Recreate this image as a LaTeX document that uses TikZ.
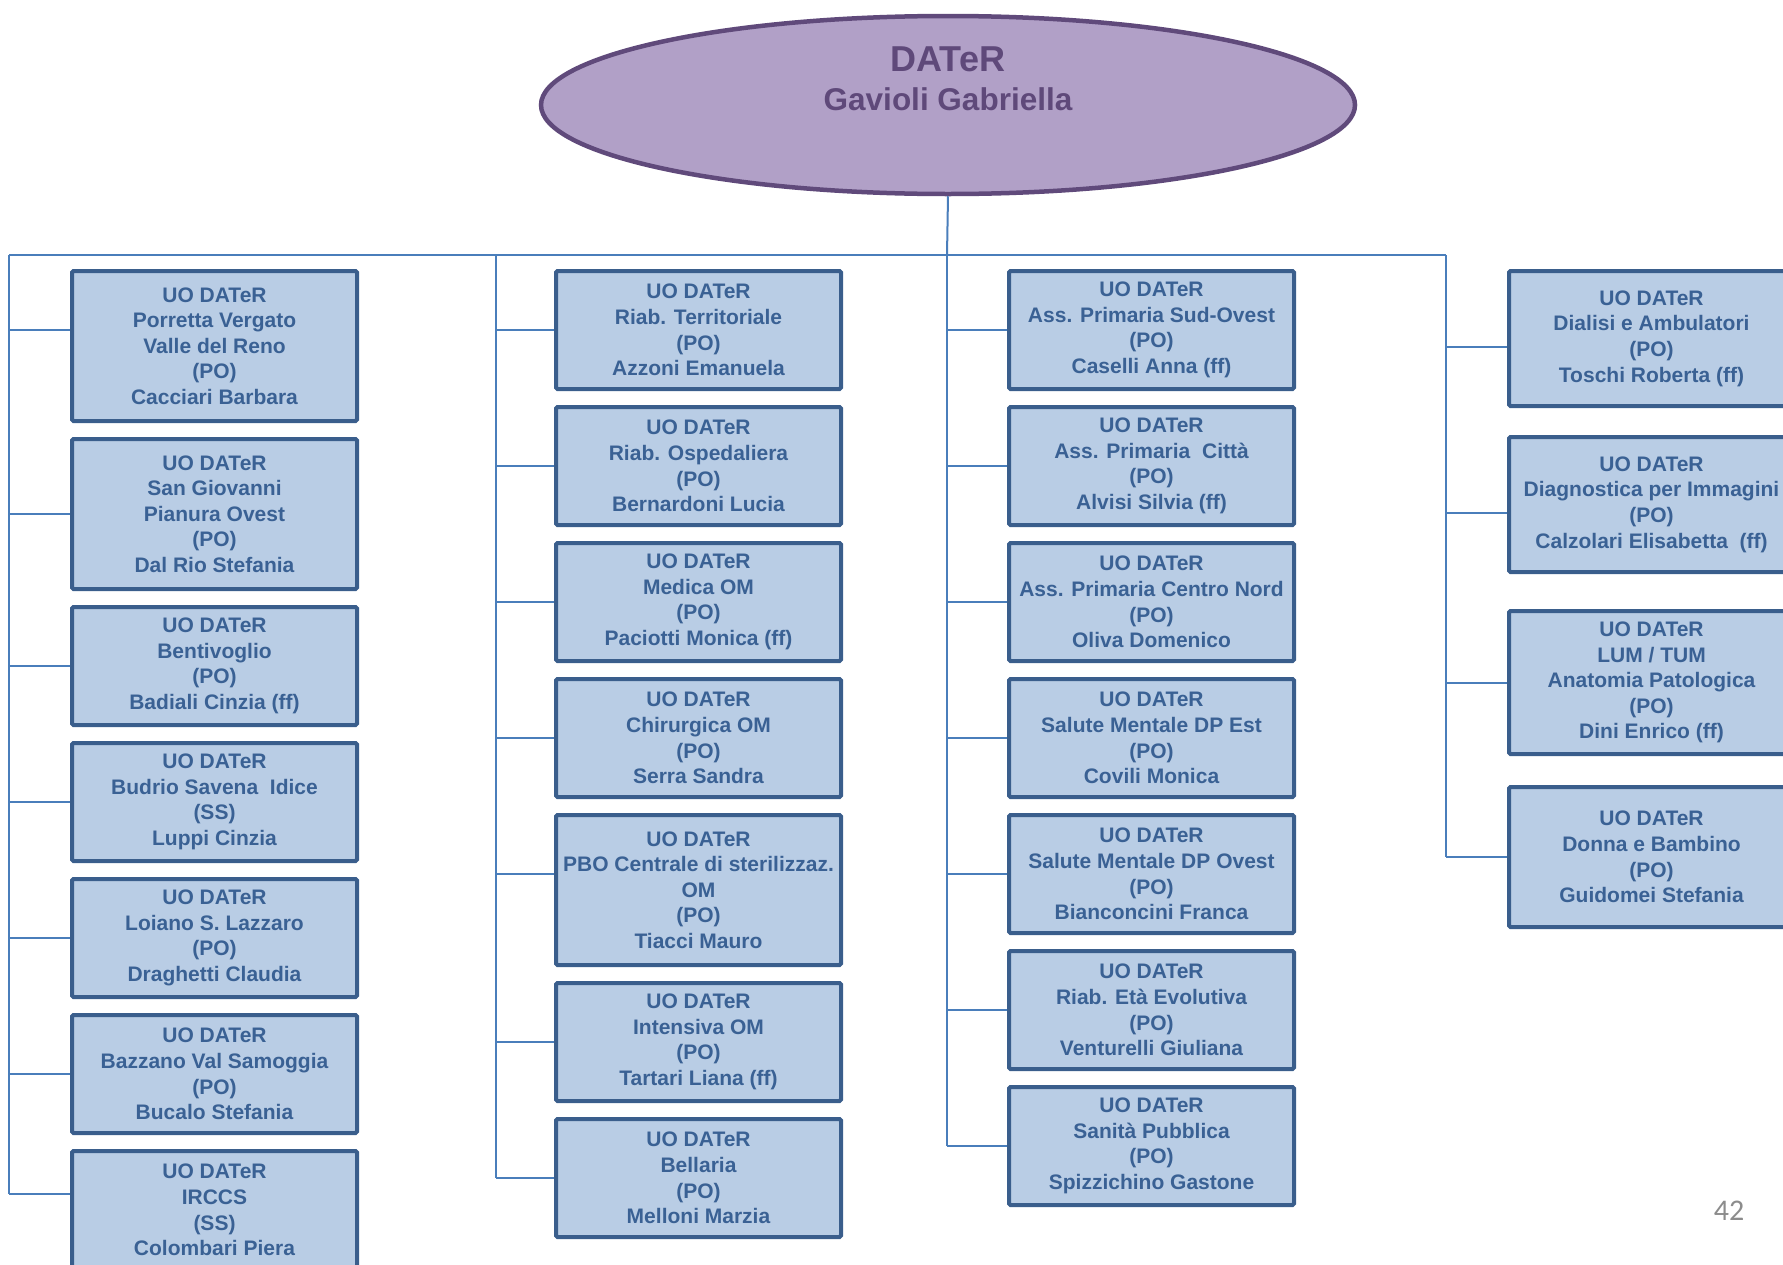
\documentclass[tikz,border=0pt]{standalone}
\usepackage{fontspec}
\setmainfont{Liberation Sans}
\newfontfamily\pagefont{Carlito}
\usetikzlibrary{positioning, shapes.geometric}
\definecolor{ovalfill}{HTML}{B1A0C7}
\definecolor{ovalline}{HTML}{604A7B}
\definecolor{ovaltext}{HTML}{5F497A}
\definecolor{boxfill}{HTML}{B9CDE5}
\definecolor{boxline}{HTML}{3A5E8C}
\definecolor{boxtext}{HTML}{3A6194}
\definecolor{connline}{HTML}{4A7EBB}
\newcommand{\boxfont}{\fontsize{21}{25.6}\selectfont\bfseries}
\newcommand{\ovalfont}{\fontsize{31.5}{39}\selectfont\bfseries}
\tikzset{
  uobox/.style={draw=boxline, fill=boxfill, line width=4pt, rounded corners=1.5pt,
    text=boxtext, font=\boxfont, align=center, minimum width=285pt,
    minimum height=118pt, inner sep=2pt},
  tallbox/.style={minimum height=150pt},
  conn/.style={draw=connline, line width=2pt}
}

\begin{document}
\begin{tikzpicture}[x=1pt,y=1pt,node distance=14pt]
\useasboundingbox (0,0) rectangle (1783,-1264);
\clip (0,0) rectangle (1783,-1264);

\node[ellipse,draw=ovalline,fill=ovalfill,line width=4.5pt,minimum width=814pt,minimum height=178pt,inner sep=0pt] (dater) at (948,-105) {};
\node[text=ovaltext,font=\ovalfont,align=center] (daterlbl) at (948,-79)
  {{\fontsize{36}{39}\selectfont DATeR}\\Gavioli Gabriella};

\coordinate (bus1) at (9,-255);
\coordinate (bus2) at (496,-255);
\coordinate (bus3) at (947,-255);
\coordinate (bus4) at (1446,-255);

\node[uobox,tallbox,anchor=north west] (a1) at (70,-269) {UO DATeR\\Porretta Vergato\\Valle del Reno\\(PO)\\Cacciari Barbara};
\node[uobox,tallbox,below=of a1] (a2) {UO DATeR\\San Giovanni\\Pianura Ovest\\(PO)\\Dal Rio Stefania};
\node[uobox,below=of a2] (a3) {UO DATeR\\Bentivoglio\\(PO)\\Badiali Cinzia (ff)};
\node[uobox,below=of a3] (a4) {UO DATeR\\Budrio Savena\ \ Idice\\(SS)\\Luppi Cinzia};
\node[uobox,below=of a4] (a5) {UO DATeR\\Loiano S. Lazzaro\\(PO)\\Draghetti Claudia};
\node[uobox,below=of a5] (a6) {UO DATeR\\Bazzano Val Samoggia\\(PO)\\Bucalo Stefania};
\node[uobox,below=of a6] (a7) {UO DATeR\\IRCCS\\(SS)\\Colombari Piera};

\node[uobox,anchor=north west] (b1) at (554,-269) {UO DATeR\\Riab. Territoriale\\(PO)\\Azzoni Emanuela};
\node[uobox,below=of b1] (b2) {UO DATeR\\Riab. Ospedaliera\\(PO)\\Bernardoni Lucia};
\node[uobox,below=of b2] (b3) {UO DATeR\\Medica OM\\(PO)\\Paciotti Monica (ff)};
\node[uobox,below=of b3] (b4) {UO DATeR\\Chirurgica OM\\(PO)\\Serra Sandra};
\node[uobox,tallbox,below=of b4] (b5) {UO DATeR\\PBO Centrale di sterilizzaz.\\OM\\(PO)\\Tiacci Mauro};
\node[uobox,below=of b5] (b6) {UO DATeR\\Intensiva OM\\(PO)\\Tartari Liana (ff)};
\node[uobox,below=of b6] (b7) {UO DATeR\\Bellaria\\(PO)\\Melloni Marzia};

\node[uobox,anchor=north west] (c1) at (1007,-269) {UO DATeR\\Ass. Primaria Sud-Ovest\\(PO)\\Caselli Anna (ff)};
\node[uobox,below=of c1] (c2) {UO DATeR\\Ass. Primaria\ \ Città\\(PO)\\Alvisi Silvia (ff)};
\node[uobox,below=of c2] (c3) {UO DATeR\\Ass. Primaria Centro Nord\\(PO)\\Oliva Domenico};
\node[uobox,below=of c3] (c4) {UO DATeR\\Salute Mentale DP Est\\(PO)\\Covili Monica};
\node[uobox,below=of c4] (c5) {UO DATeR\\Salute Mentale DP Ovest\\(PO)\\Bianconcini Franca};
\node[uobox,below=of c5] (c6) {UO DATeR\\Riab. Età Evolutiva\\(PO)\\Venturelli Giuliana};
\node[uobox,below=of c6] (c7) {UO DATeR\\Sanità Pubblica\\(PO)\\Spizzichino Gastone};

\node[uobox,minimum height=135pt,anchor=north west] (d1) at (1507,-269) {UO DATeR\\Dialisi e Ambulatori\\(PO)\\Toschi Roberta (ff)};
\node[uobox,minimum height=135pt,below=27pt of d1] (d2) {UO DATeR\\Diagnostica per Immagini\\(PO)\\Calzolari Elisabetta\ \ (ff)};
\node[uobox,minimum height=143pt,below=35pt of d2] (d3) {UO DATeR\\LUM / TUM\\Anatomia Patologica\\(PO)\\Dini Enrico (ff)};
\node[uobox,minimum height=140pt,below=29pt of d3] (d4) {UO DATeR\\Donna e Bambino\\(PO)\\Guidomei Stefania};

\foreach \n/\dy in {1/16,2/0,3/0,4/0,5/0,6/0,7/16}
  \coordinate (ta\n) at ([yshift=\dy pt]a\n.west);
\foreach \n/\dy in {1/0,2/0,3/0,4/0,5/16,6/0,7/0}
  \coordinate (tb\n) at ([yshift=\dy pt]b\n.west);
\foreach \n in {1,...,7}
  \coordinate (tc\n) at (c\n.west);
\foreach \n/\dy in {1/-8,2/-8,3/0,4/0}
  \coordinate (td\n) at ([yshift=\dy pt]d\n.west);

\draw[conn] (dater.south) -- (bus3);
\draw[conn] (bus1) -- (bus4);
\draw[conn] (bus1) -- (bus1 |- ta7);
\draw[conn] (bus2) -- (bus2 |- tb7);
\draw[conn] (bus3) -- (bus3 |- tc7);
\draw[conn] (bus4) -- (bus4 |- td4);
\foreach \n in {1,...,7} {
  \draw[conn] (bus1 |- ta\n) -- (ta\n);
  \draw[conn] (bus2 |- tb\n) -- (tb\n);
  \draw[conn] (bus3 |- tc\n) -- (tc\n);
}
\foreach \n in {1,...,4}
  \draw[conn] (bus4 |- td\n) -- (td\n);

\node[text=black!45,font=\pagefont\fontsize{30}{36}\selectfont] (pagenum) at (1729,-1211) {42};
\end{tikzpicture}
\end{document}
